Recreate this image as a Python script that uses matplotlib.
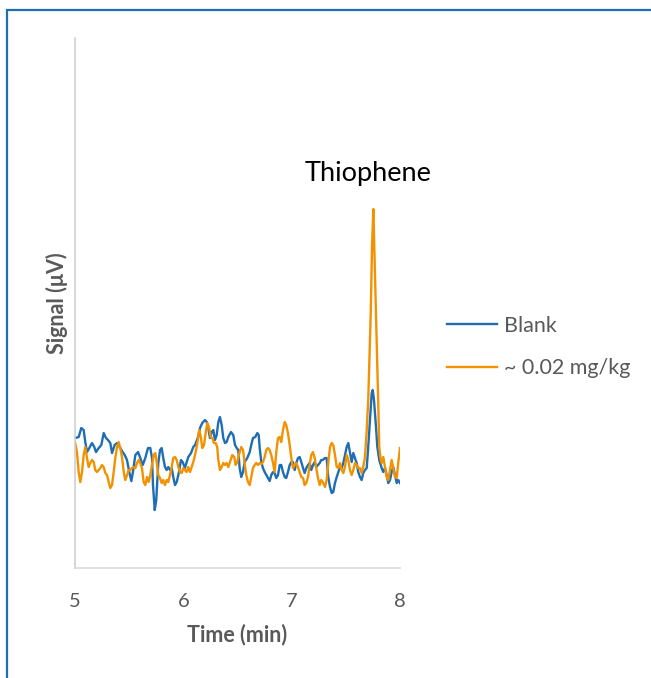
import matplotlib.pyplot as plt
from matplotlib.patches import Rectangle

plt.rcParams['font.family'] = ['Lato', 'DejaVu Sans']

# Blank trace (time in min, signal)
blank_t = [5.003, 5.034, 5.058, 5.080, 5.095, 5.111, 5.132, 5.157, 5.178, 5.194,
           5.219, 5.243, 5.265, 5.286, 5.305, 5.326, 5.342, 5.366, 5.388, 5.418,
           5.440, 5.459, 5.480, 5.501, 5.520, 5.535, 5.557, 5.582, 5.603, 5.625,
           5.649, 5.674, 5.695, 5.711, 5.720, 5.736, 5.750, 5.769, 5.785, 5.800,
           5.815, 5.831, 5.846, 5.861, 5.877, 5.893, 5.907, 5.923, 5.939, 5.960,
           5.978, 5.994, 6.015, 6.031, 6.046, 6.071, 6.092, 6.108, 6.133, 6.154,
           6.175, 6.200, 6.216, 6.230, 6.246, 6.262, 6.277, 6.292, 6.308, 6.323,
           6.338, 6.354, 6.369, 6.385, 6.400, 6.415, 6.440, 6.461, 6.477, 6.493,
           6.507, 6.520, 6.535, 6.551, 6.566, 6.590, 6.613, 6.627, 6.643, 6.664,
           6.683, 6.696, 6.705, 6.720, 6.735, 6.751, 6.766, 6.782, 6.797, 6.812,
           6.828, 6.843, 6.858, 6.874, 6.890, 6.904, 6.920, 6.936, 6.950, 6.966,
           6.982, 6.997, 7.012, 7.028, 7.043, 7.058, 7.074, 7.089, 7.105, 7.120,
           7.135, 7.151, 7.166, 7.181, 7.197, 7.213, 7.227, 7.243, 7.259, 7.273,
           7.286, 7.308, 7.323, 7.338, 7.354, 7.370, 7.384, 7.400, 7.416, 7.431,
           7.446, 7.462, 7.477, 7.492, 7.508, 7.523, 7.538, 7.554, 7.569, 7.585,
           7.600, 7.615, 7.631, 7.646, 7.661, 7.677, 7.693, 7.707, 7.723, 7.739,
           7.748, 7.760, 7.776, 7.791, 7.809, 7.831, 7.846, 7.862, 7.877, 7.892,
           7.908, 7.923, 7.938, 7.954, 7.970, 7.984, 8.000]
blank_s = [130, 131, 140, 138, 126, 116, 120, 125, 121, 116,
           120, 123, 135, 130, 128, 125, 115, 123, 125, 120,
           116, 113, 108, 96, 87, 96, 113, 116, 110, 103,
           110, 120, 120, 110, 83, 58, 68, 105, 118, 120,
           110, 101, 98, 101, 98, 100, 91, 83, 86, 96,
           108, 106, 100, 106, 111, 115, 121, 123, 130, 140,
           145, 148, 146, 140, 130, 136, 138, 128, 133, 146,
           151, 143, 130, 125, 126, 131, 136, 133, 123, 120,
           118, 100, 91, 96, 106, 110, 116, 123, 130, 131,
           135, 133, 120, 106, 100, 96, 93, 90, 87, 93,
           96, 95, 90, 93, 103, 103, 96, 91, 90, 96,
           103, 106, 106, 98, 105, 110, 111, 106, 100, 95,
           100, 103, 105, 98, 103, 106, 101, 103, 105, 108,
           108, 110, 110, 91, 81, 75, 76, 85, 91, 96,
           101, 100, 105, 113, 121, 125, 116, 106, 115, 110,
           105, 96, 91, 88, 95, 98, 100, 121, 148, 175,
           178, 168, 145, 121, 108, 100, 96, 100, 93, 85,
           88, 96, 101, 93, 85, 88, 85]

# ~0.02 mg/kg trace
spike_t = [5.000, 5.018, 5.034, 5.049, 5.065, 5.080, 5.095, 5.111, 5.126, 5.141,
           5.157, 5.173, 5.187, 5.203, 5.219, 5.234, 5.249, 5.265, 5.280, 5.295,
           5.311, 5.326, 5.342, 5.357, 5.372, 5.388, 5.403, 5.418, 5.434, 5.450,
           5.464, 5.480, 5.496, 5.510, 5.526, 5.542, 5.557, 5.572, 5.588, 5.603,
           5.618, 5.634, 5.649, 5.665, 5.680, 5.695, 5.711, 5.726, 5.741, 5.754,
           5.769, 5.785, 5.800, 5.815, 5.831, 5.846, 5.861, 5.877, 5.893, 5.907,
           5.923, 5.939, 5.954, 5.969, 5.985, 6.000, 6.015, 6.031, 6.046, 6.062,
           6.077, 6.092, 6.108, 6.123, 6.138, 6.147, 6.163, 6.175, 6.191, 6.206,
           6.221, 6.237, 6.253, 6.267, 6.283, 6.299, 6.313, 6.323, 6.338, 6.354,
           6.369, 6.385, 6.400, 6.415, 6.431, 6.452, 6.470, 6.483, 6.498, 6.520,
           6.535, 6.551, 6.566, 6.581, 6.597, 6.613, 6.627, 6.643, 6.659, 6.673,
           6.689, 6.705, 6.720, 6.735, 6.751, 6.766, 6.782, 6.797, 6.812, 6.828,
           6.843, 6.858, 6.874, 6.890, 6.904, 6.920, 6.936, 6.950, 6.966, 6.982,
           6.997, 7.012, 7.028, 7.043, 7.058, 7.074, 7.089, 7.105, 7.120, 7.135,
           7.151, 7.166, 7.181, 7.197, 7.213, 7.227, 7.243, 7.259, 7.273, 7.292,
           7.308, 7.323, 7.338, 7.354, 7.370, 7.384, 7.400, 7.416, 7.431, 7.446,
           7.462, 7.477, 7.492, 7.508, 7.523, 7.538, 7.554, 7.569, 7.585, 7.600,
           7.615, 7.631, 7.646, 7.661, 7.677, 7.693, 7.707, 7.730, 7.742, 7.754,
           7.763, 7.779, 7.794, 7.809, 7.820, 7.831, 7.846, 7.862, 7.877, 7.892,
           7.908, 7.923, 7.938, 7.954, 7.970, 7.984, 8.000]
spike_s = [126, 116, 96, 86, 96, 113, 121, 110, 101, 105,
           108, 106, 98, 96, 98, 100, 103, 101, 95, 93,
           86, 80, 83, 96, 110, 121, 126, 120, 111, 96,
           88, 93, 98, 98, 100, 101, 100, 105, 108, 105,
           100, 86, 83, 91, 86, 93, 103, 113, 115, 106,
           93, 90, 85, 88, 83, 88, 86, 93, 101, 110,
           111, 108, 101, 96, 95, 100, 98, 96, 101, 96,
           101, 106, 113, 121, 131, 138, 130, 120, 123, 135,
           145, 141, 131, 130, 125, 125, 121, 108, 98, 101,
           105, 103, 105, 101, 106, 113, 111, 103, 106, 116,
           121, 118, 105, 93, 86, 83, 91, 100, 103, 105,
           103, 105, 104, 106, 111, 118, 120, 118, 113, 105,
           96, 116, 130, 131, 126, 138, 146, 143, 135, 123,
           110, 100, 103, 105, 101, 96, 91, 90, 83, 85,
           91, 103, 113, 116, 110, 100, 90, 83, 88, 85,
           81, 88, 105, 121, 125, 123, 113, 101, 100, 105,
           98, 95, 101, 113, 108, 98, 93, 98, 105, 103,
           100, 100, 95, 101, 111, 138, 168, 255, 321, 359,
           321, 255, 188, 121, 110, 105, 111, 101, 91, 88,
           98, 108, 100, 91, 90, 105, 120]

x_ticks = [5, 6, 7, 8]

blue = '#1f6eb4'
orange = '#f39200'
gray = '#595959'

fig = plt.figure(figsize=(6.51, 6.78), dpi=100)
ax = fig.add_axes([0.1152, 0.1622, 0.4992, 0.7817])

ax.plot(blank_t, blank_s, color=blue, lw=1.7, label='Blank')
ax.plot(spike_t, spike_s, color=orange, lw=1.7, label='~ 0.02 mg/kg')

ax.set_xlim(5, 8)
ax.set_ylim(0, 530)
ax.set_xticks(x_ticks)
ax.set_xticklabels([str(v) for v in x_ticks])
ax.set_yticks([])
ax.tick_params(axis='x', length=0, pad=18, labelsize=14.5, labelcolor=gray)
for s in ['top', 'right']:
    ax.spines[s].set_visible(False)
ax.spines['left'].set_color('#d0d0d0')
ax.spines['bottom'].set_color('#d9d9d9')
ax.spines['left'].set_linewidth(1.2)
ax.spines['bottom'].set_linewidth(1.2)

ax.set_xlabel('Time (min)', fontsize=15.5, fontweight='bold', color=gray, labelpad=10)
ax.set_ylabel('Signal (μV)', fontsize=15.5, fontweight='bold', color=gray, labelpad=5)

ax.text(7.705, 395, 'Thiophene', fontsize=19.5, color='black', ha='center', va='center')

leg = fig.legend(loc='center left', bbox_to_anchor=(0.657, 0.488), frameon=False,
                 fontsize=15.5, handlelength=2.3, handletextpad=0.35, labelspacing=1.05)
for txt in leg.get_texts():
    txt.set_color(gray)

# blue frame around the chart area
fig.patches.append(Rectangle((0.0115, -0.05), 1.1, 1.0352, transform=fig.transFigure,
                             fill=False, edgecolor='#1f6eb4', lw=1.6))

fig.savefig('out.png', dpi=100)
